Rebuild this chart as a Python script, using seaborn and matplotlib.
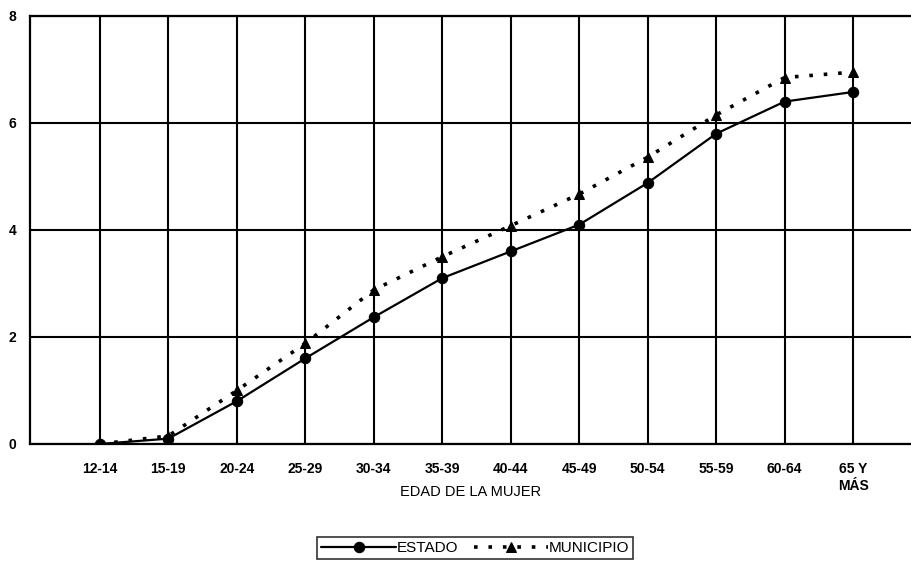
import pandas as pd
import seaborn as sns
import matplotlib
matplotlib.use('Agg')
import matplotlib.pyplot as plt

# data
edades = ['12-14', '15-19', '20-24', '25-29', '30-34', '35-39', '40-44',
          '45-49', '50-54', '55-59', '60-64', '65 Y\nMÁS']
estado = [0.0, 0.1, 0.8, 1.6, 2.37, 3.1, 3.6, 4.1, 4.88, 5.8, 6.4, 6.58]
municipio = [0.0, 0.15, 1.0, 1.88, 2.88, 3.5, 4.08, 4.67, 5.36, 6.15, 6.85, 6.95]

df = pd.DataFrame({'pos': range(len(edades)), 'ESTADO': estado, 'MUNICIPIO': municipio})

sns.set_style('white')
plt.rcParams['font.family'] = ['Liberation Sans', 'DejaVu Sans']
plt.rcParams['text.color'] = 'black'
plt.rcParams['xtick.color'] = 'black'
plt.rcParams['ytick.color'] = 'black'
plt.rcParams['axes.labelcolor'] = 'black'

fig = plt.figure(figsize=(9.12, 5.61), dpi=100)
ax = fig.add_axes([0.0329, 0.2086, 0.9671, 0.7629])

sns.lineplot(x='pos', y='ESTADO', data=df, ax=ax, color='black', lw=1.6,
             marker='o', markersize=7.5, markeredgecolor='black', label='ESTADO')
sns.lineplot(x='pos', y='MUNICIPIO', data=df, ax=ax, color='black', lw=2.6,
             linestyle=(0, (1, 3)), marker='^', markersize=7.5,
             markeredgecolor='black', label='MUNICIPIO')

ax.set_xlim(-1.02, 11.86)
ax.set_ylim(0, 8)
ax.set_xticks(range(len(edades)))
ax.set_xticklabels(edades, fontsize=10, fontweight='bold', va='top', ha='center',
                   linespacing=1.3)
ax.set_yticks([0, 2, 4, 6, 8])
ax.set_yticklabels(['0', '2', '4', '6', '8'], fontsize=10, fontweight='bold')
ax.tick_params(axis='x', direction='out', length=4, width=1.2, pad=9)
ax.tick_params(axis='y', direction='out', length=4, width=1.2, pad=6)

ax.grid(True, color='black', lw=1.5)
for side in ['left', 'top', 'bottom']:
    ax.spines[side].set_color('black')
    ax.spines[side].set_linewidth(1.6)
ax.spines['right'].set_visible(False)

ax.set_xlabel('EDAD DE LA MUJER', fontsize=10.5, labelpad=-6)
ax.set_ylabel('')

leg = ax.legend(loc='upper center', bbox_to_anchor=(0.505, -0.218), ncol=2,
                frameon=True, fancybox=False, edgecolor='black', fontsize=11,
                handlelength=4.9, handletextpad=0.05, columnspacing=1.0,
                borderpad=0.25, borderaxespad=0)
leg.get_frame().set_linewidth(1.2)

plt.savefig('out.png', dpi=100)
